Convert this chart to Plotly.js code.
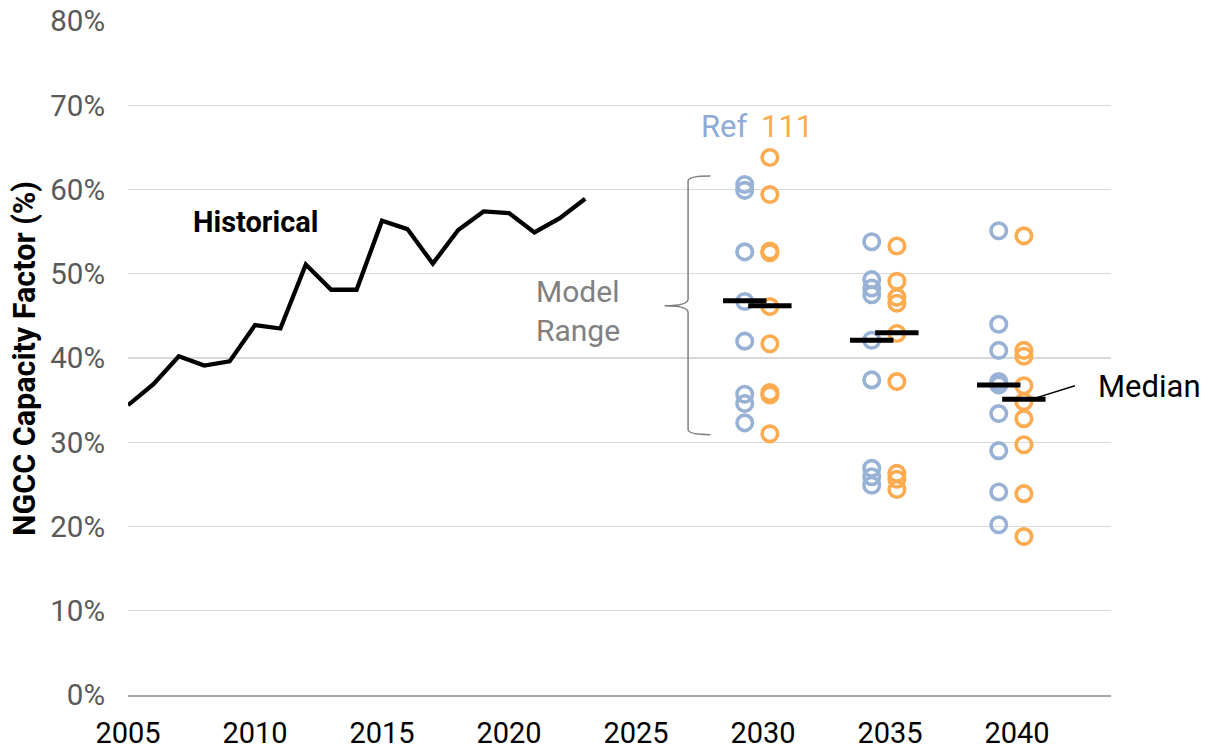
<!DOCTYPE html>
<html>
<head>
<meta charset="utf-8">
<script src="https://cdn.plot.ly/plotly-3.0.1.min.js"></script>
<style>html,body{margin:0;padding:0;background:#fff;}#chart{width:1217px;height:752px;}</style>
</head>
<body>
<div id="chart"></div>
<script>
// Historical NGCC capacity factor (%)
var histYears = [2005,2006,2007,2008,2009,2010,2011,2012,2013,2014,2015,2016,2017,2018,2019,2020,2021,2022,2023];
var histValues = [34.4,36.9,40.2,39.1,39.6,43.9,43.5,51.1,48.1,48.1,56.3,55.3,51.2,55.2,57.4,57.2,54.9,56.6,58.9];

// Projection years
var projYears = [2030, 2035, 2040];

// Model results, Reference case
var ref2030 = [60.6,59.9,52.6,46.7,42.0,35.7,34.6,32.3];
var ref2035 = [53.8,49.3,48.3,47.5,42.1,37.4,26.9,25.9,24.9];
var ref2040 = [55.1,44.0,40.9,37.2,36.8,33.4,29.0,24.1,20.2];

// Model results, 111 case
var p111_2030 = [63.8,59.4,52.7,52.5,46.1,41.7,35.9,35.6,31.0];
var p111_2035 = [53.3,49.1,47.2,46.5,42.9,37.2,26.3,25.6,24.4];
var p111_2040 = [54.5,40.9,40.2,36.7,34.8,32.8,29.7,23.9,18.8];

// Medians
var refMedian = [46.8,42.1,36.8];
var p111Median = [46.2,43.0,35.1];

// Axis ticks
var yTickVals = [0,10,20,30,40,50,60,70,80];
var yTickText = ["0%","10%","20%","30%","40%","50%","60%","70%","80%"];
var xTickVals = [2005,2010,2015,2020,2025,2030,2035,2040];

var BLUE = "#98b2d6";
var ORANGE = "#fdab50";
var refOffset = -0.72, p111Offset = 0.27;

function column(yearVals, offset, arrays){
  var xs = [], ys = [];
  arrays.forEach(function(arr, i){
    arr.forEach(function(v){ xs.push(yearVals[i] + offset); ys.push(v); });
  });
  return {x: xs, y: ys};
}
var refPts = column(projYears, refOffset, [ref2030, ref2035, ref2040]);
var p111Pts = column(projYears, p111Offset, [p111_2030, p111_2035, p111_2040]);

var traces = [
  {x: histYears, y: histValues, type: "scatter", mode: "lines",
   line: {color: "#000", width: 4.3}, hoverinfo: "skip", cliponaxis: false},
  {x: refPts.x, y: refPts.y, type: "scatter", mode: "markers",
   marker: {symbol: "circle-open", size: 15.5, color: BLUE, line: {width: 3.6, color: BLUE}}, cliponaxis: false},
  {x: p111Pts.x, y: p111Pts.y, type: "scatter", mode: "markers",
   marker: {symbol: "circle-open", size: 15.5, color: ORANGE, line: {width: 3.6, color: ORANGE}}, cliponaxis: false},
  {x: projYears.map(function(y){return y + refOffset;}), y: refMedian, type: "scatter", mode: "markers",
   marker: {symbol: "line-ew-open", size: 31, color: "#000", line: {width: 5, color: "#000"}}, cliponaxis: false},
  {x: projYears.map(function(y){return y + p111Offset;}), y: p111Median, type: "scatter", mode: "markers",
   marker: {symbol: "line-ew-open", size: 31, color: "#000", line: {width: 5, color: "#000"}}, cliponaxis: false}
];

var layout = {
  width: 1217, height: 752,
  margin: {l: 128, r: 106, t: 21, b: 57},
  paper_bgcolor: "#fff", plot_bgcolor: "#fff",
  showlegend: false,
  font: {family: "Roboto, 'Open Sans', sans-serif"},
  xaxis: {
    range: [2005, 2043.7], tickvals: xTickVals, ticks: "", showgrid: false,
    zeroline: false, showline: true, linecolor: "#a6a6a6", linewidth: 1.5,
    tickfont: {size: 29, color: "#000"}, ticklabelstandoff: 12, fixedrange: true
  },
  yaxis: {
    range: [0, 80], tickvals: yTickVals, ticktext: yTickText, ticks: "",
    showgrid: true, gridcolor: "#d9d9d9", gridwidth: 1.3, zeroline: false, showline: false,
    tickfont: {size: 29.5, color: "#595959"}, ticklabelstandoff: 22, fixedrange: true
  },
  shapes: [
    {type: "path", xref: "x", yref: "y",
     path: "M 2027.93,61.6 Q 2027.05,61.6 2027.05,61.0 L 2027.05,47.0 Q 2027.05,46.2 2026.13,46.2 Q 2027.05,46.2 2027.05,45.4 L 2027.05,31.5 Q 2027.05,30.9 2027.93,30.9",
     line: {color: "#7f7f7f", width: 1.5}},
    {type: "line", xref: "x", yref: "y", x0: 2040.78, y0: 35.3, x1: 2042.28, y1: 36.7,
     line: {color: "#000", width: 1.5}}
  ],
  annotations: [
    {xref: "x", yref: "y", x: 2010, y: 56.1, text: "<b>Historical</b>", showarrow: false,
     font: {size: 29, color: "#000"}, xanchor: "center", yanchor: "middle"},
    {xref: "x", yref: "y", x: 2021.0, y: 45.6, text: "Model<br>Range", showarrow: false, align: "left",
     font: {size: 30, color: "#808080"}, xanchor: "left", yanchor: "middle"},
    {xref: "x", yref: "y", x: 2028.48, y: 67.5, text: "Ref", showarrow: false,
     font: {size: 31, color: "#8eaad6"}, xanchor: "center", yanchor: "middle"},
    {xref: "x", yref: "y", x: 2030.95, y: 67.5, text: "111", showarrow: false,
     font: {size: 31, color: ORANGE}, xanchor: "center", yanchor: "middle"},
    {xref: "paper", yref: "y", x: 0.9845, y: 36.6, text: "Median", showarrow: false,
     font: {size: 31, color: "#000"}, xanchor: "left", yanchor: "middle"},
    {xref: "paper", yref: "paper", x: -0.1048, y: 0.5, text: "<b>NGCC Capacity Factor (%)</b>",
     textangle: -90, showarrow: false, font: {size: 30.5, color: "#000"}, xanchor: "center", yanchor: "middle"}
  ]
};

Plotly.newPlot("chart", traces, layout, {displayModeBar: false, staticPlot: true});
</script>
</body>
</html>
